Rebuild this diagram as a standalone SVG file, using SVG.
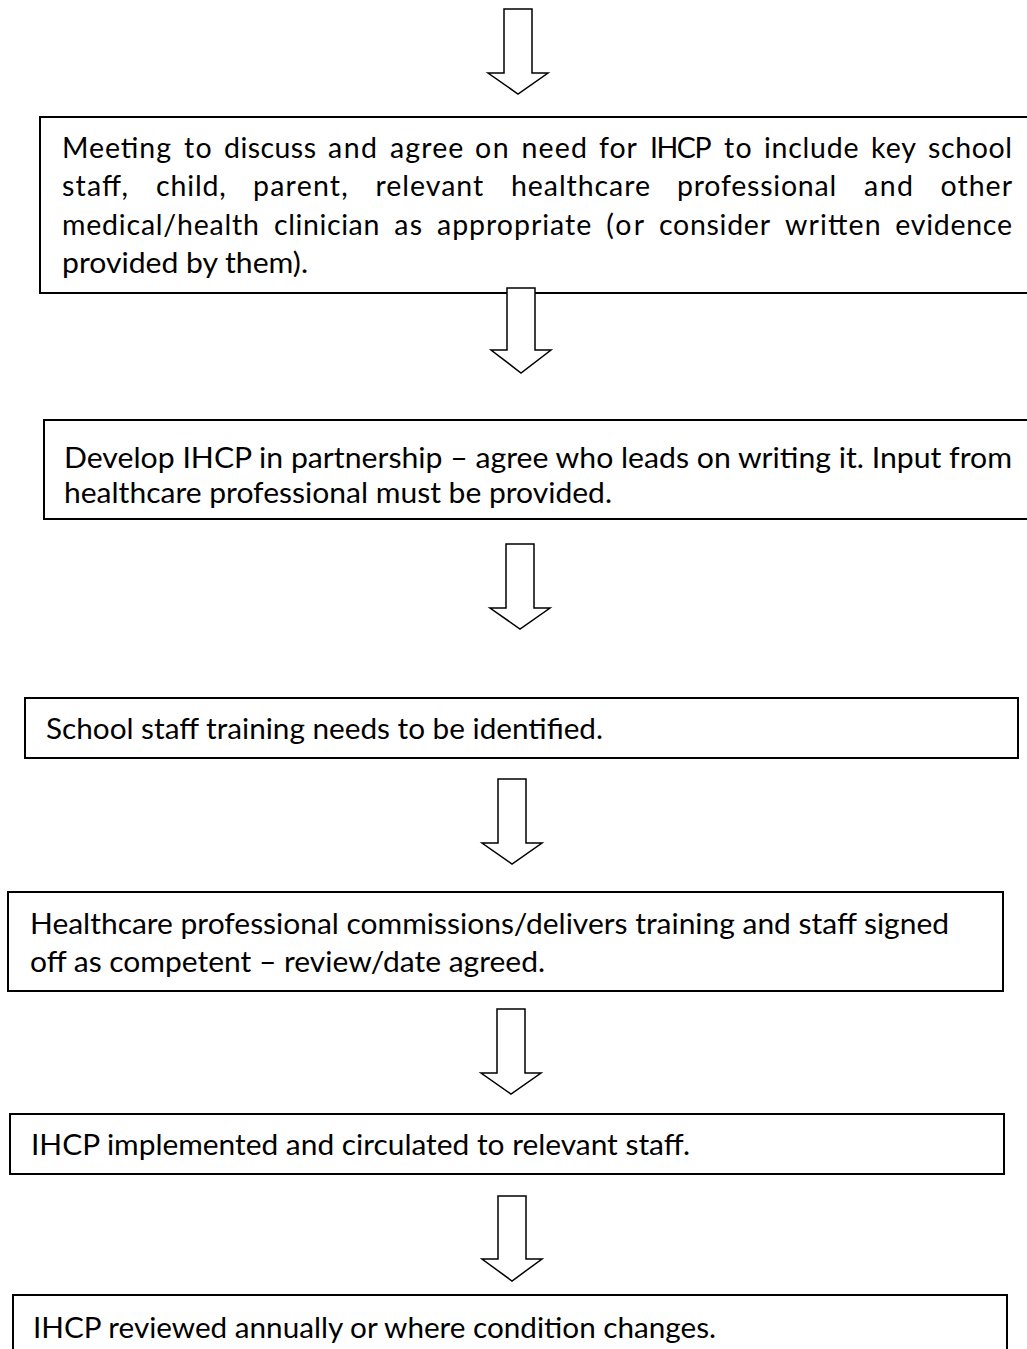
<svg xmlns="http://www.w3.org/2000/svg" width="1027" height="1349" viewBox="0 0 1027 1349">
<style>
.box{fill:#fff;stroke:#000;stroke-width:2}
.arr{fill:#fff;stroke:#000;stroke-width:1.5;stroke-linejoin:miter}
.t{font-family:Lato,"Open Sans","Liberation Sans",sans-serif;font-size:28.5px;fill:#000}
</style>
<rect width="1027" height="1349" fill="#fff"/>
<g id="node1">
<rect class="box" x="40" y="117" width="1000" height="176"/>
<text class="t" y="158" lengthAdjust="spacingAndGlyphs"><tspan x="62" textLength="109">Meeting</tspan><tspan x="184" textLength="27.6">to</tspan><tspan x="224" textLength="92">discuss</tspan><tspan x="328" textLength="49">and</tspan><tspan x="390" textLength="73.4">agree</tspan><tspan x="475" textLength="33.7">on</tspan><tspan x="521.5" textLength="65.5">need</tspan><tspan x="599" textLength="37.8">for</tspan><tspan x="650" textLength="61.6">IHCP</tspan><tspan x="724" textLength="27.6">to</tspan><tspan x="764" textLength="94.5">include</tspan><tspan x="871" textLength="45">key</tspan><tspan x="928" textLength="84">school</tspan></text>
<text class="t" y="196" lengthAdjust="spacingAndGlyphs"><tspan x="62" textLength="66">staff,</tspan><tspan x="156" textLength="69.8">child,</tspan><tspan x="253" textLength="94.8">parent,</tspan><tspan x="375.5" textLength="107.7">relevant</tspan><tspan x="511" textLength="139">healthcare</tspan><tspan x="677" textLength="159.2">professional</tspan><tspan x="864" textLength="49">and</tspan><tspan x="940.5" textLength="71.5">other</tspan></text>
<text class="t" y="235" lengthAdjust="spacingAndGlyphs"><tspan x="62" textLength="197">medical/health</tspan><tspan x="274" textLength="105.3">clinician</tspan><tspan x="394.3" textLength="27.8">as</tspan><tspan x="437" textLength="154.2">appropriate</tspan><tspan x="606.3" textLength="37.7">(or</tspan><tspan x="659" textLength="111">consider</tspan><tspan x="785" textLength="95.6">written</tspan><tspan x="895.3" textLength="116.7">evidence</tspan></text>
<text class="t" x="62" y="273" textLength="246" lengthAdjust="spacingAndGlyphs">provided by them).</text>
</g>
<g id="node2">
<rect class="box" x="44" y="420" width="1000" height="99"/>
<text class="t" x="64" y="468" textLength="948" lengthAdjust="spacingAndGlyphs">Develop IHCP in partnership – agree who leads on writing it. Input from</text>
<text class="t" x="64" y="503" textLength="548" lengthAdjust="spacingAndGlyphs">healthcare professional must be provided.</text>
</g>
<g id="node3">
<rect class="box" x="25" y="698" width="993" height="60"/>
<text class="t" x="46" y="739" textLength="557" lengthAdjust="spacingAndGlyphs">School staff training needs to be identified.</text>
</g>
<g id="node4">
<rect class="box" x="8" y="892" width="995" height="99"/>
<text class="t" x="30" y="934" textLength="919" lengthAdjust="spacingAndGlyphs">Healthcare professional commissions/delivers training and staff signed</text>
<text class="t" x="30" y="972" textLength="515" lengthAdjust="spacingAndGlyphs">off as competent – review/date agreed.</text>
</g>
<g id="node5">
<rect class="box" x="10" y="1114" width="994" height="60"/>
<text class="t" x="31" y="1155" textLength="659" lengthAdjust="spacingAndGlyphs">IHCP implemented and circulated to relevant staff.</text>
</g>
<g id="node6">
<rect class="box" x="13" y="1295" width="994" height="80"/>
<text class="t" x="33" y="1338" textLength="683" lengthAdjust="spacingAndGlyphs">IHCP reviewed annually or where condition changes.</text>
</g>
<g id="connectors">
<path class="arr" d="M504,9 L532,9 L532,73 L548,73 L518,94 L488,73 L504,73 Z"/>
<path class="arr" d="M507,288 L535,288 L535,350 L551,350 L521,373 L491,350 L507,350 Z"/>
<path class="arr" d="M506,544 L534,544 L534,608 L550,608 L520,629 L490,608 L506,608 Z"/>
<path class="arr" d="M498,779 L526,779 L526,843 L542,843 L512,864 L482,843 L498,843 Z"/>
<path class="arr" d="M497,1009 L525,1009 L525,1073 L541,1073 L511,1094 L481,1073 L497,1073 Z"/>
<path class="arr" d="M498,1196 L526,1196 L526,1259 L542,1259 L512,1281 L482,1259 L498,1259 Z"/>
</g>
</svg>
